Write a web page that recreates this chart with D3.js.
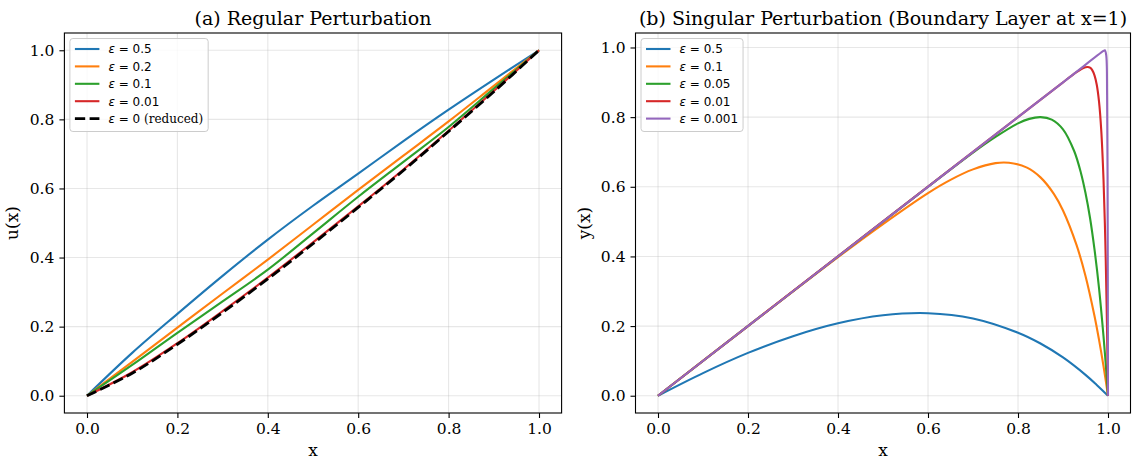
<!DOCTYPE html>
<html>
<head>
<meta charset="utf-8">
<script src="https://cdn.jsdelivr.net/npm/d3@7"></script>
<style>
  body { margin: 0; background: #fff; }
  svg text { font-family: "DejaVu Serif", serif; fill: #000; }
</style>
</head>
<body>
<div id="chart"></div>
<script>
(function () {

  // ---- data ----
  const ticks = [0, 0.2, 0.4, 0.6, 0.8, 1.0]

  // (a) regular perturbation, sampled every 0.1
  const regularX = [0, 0.1, 0.2, 0.3, 0.4, 0.5, 0.6, 0.7, 0.8, 0.9, 1.0]
  const regularEps05 = [0, 0.124, 0.237, 0.347, 0.452, 0.550, 0.643, 0.737, 0.828, 0.915, 1.0]
  const regularEps02 = [0, 0.098, 0.197, 0.296, 0.394, 0.495, 0.596, 0.695, 0.794, 0.897, 1.0]
  const regularEps01 = [0, 0.089, 0.182, 0.273, 0.365, 0.470, 0.576, 0.677, 0.778, 0.889, 1.0]
  const regularEps001 = [0, 0.068, 0.152, 0.245, 0.342, 0.444, 0.548, 0.655, 0.767, 0.882, 1.0]
  const regularReduced = [0, 0.065, 0.149, 0.241, 0.338, 0.440, 0.545, 0.652, 0.765, 0.880, 1.0]
  const regularLabels = ["0.5", "0.2", "0.1", "0.01"]

  // (b) singular perturbation, boundary layer at x=1
  const singEps05X = [0, 0.1, 0.2, 0.3, 0.4, 0.5, 0.6, 0.7, 0.8, 0.85, 0.9, 0.95, 0.975, 1.0]
  const singEps05Y = [0, 0.065, 0.123, 0.171, 0.208, 0.231, 0.237, 0.222, 0.181, 0.150, 0.110, 0.060, 0.031, 0]
  const singEps01X = [0, 0.2, 0.4, 0.5, 0.6, 0.65, 0.7, 0.75, 0.78, 0.82, 0.85, 0.88, 0.9, 0.93, 0.95, 0.97, 0.98, 0.99, 1.0]
  const singEps01Y = [0, 0.2, 0.398, 0.493, 0.582, 0.620, 0.650, 0.668, 0.669, 0.655, 0.627, 0.579, 0.532, 0.433, 0.344, 0.229, 0.161, 0.085, 0]
  const singEps005X = [0, 0.5, 0.6, 0.7, 0.75, 0.8, 0.825, 0.85, 0.875, 0.9, 0.925, 0.94, 0.95, 0.96, 0.97, 0.98, 0.99, 0.995, 1.0]
  const singEps005Y = [0, 0.5, 0.6, 0.698, 0.743, 0.782, 0.795, 0.800, 0.793, 0.765, 0.702, 0.639, 0.582, 0.511, 0.420, 0.310, 0.171, 0.090, 0]
  const singEps001X = [0, 0.9, 0.93, 0.94, 0.95, 0.955, 0.96, 0.965, 0.97, 0.975, 0.98, 0.985, 0.99, 0.993, 0.995, 0.997, 0.999, 1.0]
  const singEps001Y = [0, 0.9, 0.929, 0.9375, 0.943, 0.944, 0.942, 0.935, 0.920, 0.893, 0.845, 0.762, 0.622, 0.496, 0.389, 0.256, 0.094, 0]
  const singEps0001X = [0, 0.9, 0.99, 0.993, 0.996, 0.998, 0.999, 1.0]
  const singEps0001Y = [0, 0.9, 0.99, 0.992, 0.978, 0.863, 0.631, 0]
  const singularLabels = ["0.5", "0.1", "0.05", "0.01", "0.001"]

  const colors = ["#1f77b4", "#ff7f0e", "#2ca02c", "#d62728", "#9467bd"]

  const W = 1137, H = 459

  const svg = d3.select("#chart").append("svg")
      .attr("width", W)
      .attr("height", H)

  // Build one panel
  function panel(opts) {
    const x = d3.scaleLinear().domain([-0.05, 1.05]).range([opts.left, opts.right])
    const y = d3.scaleLinear().domain(opts.yDomain).range([413, 33])
    const g = svg.append("g")

    // grid
    g.selectAll(".gx").data(ticks).join("line")
      .attr("x1", d => x(d)).attr("x2", d => x(d))
      .attr("y1", 33).attr("y2", 413)
      .attr("stroke", "#b0b0b0").attr("stroke-opacity", 0.3).attr("stroke-width", 1.1)
    g.selectAll(".gy").data(ticks).join("line")
      .attr("y1", d => y(d)).attr("y2", d => y(d))
      .attr("x1", opts.left).attr("x2", opts.right)
      .attr("stroke", "#b0b0b0").attr("stroke-opacity", 0.3).attr("stroke-width", 1.1)

    const line = d3.line()
      .x(d => x(d[0]))
      .y(d => y(d[1]))
      .curve(d3.curveCatmullRom.alpha(0.5))

    opts.series.forEach(s => {
      g.append("path")
        .datum(s.xs.map((v, i) => [v, s.ys[i]]))
        .attr("fill", "none")
        .attr("stroke", s.color)
        .attr("stroke-width", s.width || 2.1)
        .attr("stroke-dasharray", s.dash || null)
        .attr("stroke-linejoin", "round")
        .attr("d", line)
    })

    // axes
    const fmt = d3.format(".1f")
    const ax = g.append("g").attr("transform", "translate(0,413)")
      .call(d3.axisBottom(x).tickValues(ticks).tickFormat(fmt).tickSize(5).tickPadding(5))
    const ay = g.append("g").attr("transform", "translate(" + opts.left + ",0)")
      .call(d3.axisLeft(y).tickValues(ticks).tickFormat(fmt).tickSize(5).tickPadding(5))
    ;[ax, ay].forEach(a => {
      a.select(".domain").remove()
      a.selectAll("line").attr("stroke", "#000").attr("stroke-width", 1.1)
      a.selectAll("text").style("font-family", "DejaVu Serif").style("font-size", "15.5px")
    })

    // frame
    g.append("rect")
      .attr("x", opts.left).attr("y", 33)
      .attr("width", opts.right - opts.left).attr("height", 380)
      .attr("fill", "none").attr("stroke", "#000").attr("stroke-width", 1.1)

    // titles and labels
    g.append("text")
      .attr("x", (opts.left + opts.right) / 2).attr("y", 25)
      .attr("text-anchor", "middle").style("font-size", "19px")
      .text(opts.title)
    g.append("text")
      .attr("x", (opts.left + opts.right) / 2).attr("y", 456)
      .attr("text-anchor", "middle").style("font-size", "17px")
      .text("x")
    g.append("text")
      .attr("transform", "translate(" + (opts.left - 46) + ",223) rotate(-90)")
      .attr("text-anchor", "middle").style("font-size", "17px")
      .text(opts.ylabel)

    // legend
    const lg = g.append("g")
    const box = lg.append("rect")
      .attr("x", opts.left + 5.5).attr("y", 38.5)
      .attr("rx", 3)
      .attr("fill", "#fff").attr("fill-opacity", 0.8)
      .attr("stroke", "#cccccc").attr("stroke-width", 1)
    let maxW = 0
    opts.legend.forEach((it, i) => {
      const yy = 49 + i * 17.4
      lg.append("line")
        .attr("x1", opts.left + 10.5).attr("x2", opts.left + 35)
        .attr("y1", yy).attr("y2", yy)
        .attr("stroke", it.color)
        .attr("stroke-width", it.width || 2.1)
        .attr("stroke-dasharray", it.dash || null)
      const t = lg.append("text")
        .attr("x", opts.left + 44).attr("y", yy + 4.3)
        .style("font-size", "12px")
      t.append("tspan").style("font-family", "DejaVu Sans").style("font-style", "italic").text("ε")
      t.append("tspan").style("font-family", "DejaVu Sans").text(" = " + it.value)
      if (it.extra) t.append("tspan").style("font-family", "DejaVu Serif").text(it.extra)
      maxW = Math.max(maxW, t.node().getComputedTextLength())
    })
    box.attr("width", 44 + maxW + 5 - 5.5)
      .attr("height", opts.legend.length * 17.4 + 6)
  }

  panel({
    left: 64.4, right: 561.6,
    yDomain: [-0.05, 1.05],
    title: "(a) Regular Perturbation",
    ylabel: "u(x)",
    series: [
      { xs: regularX, ys: regularEps05, color: colors[0] },
      { xs: regularX, ys: regularEps02, color: colors[1] },
      { xs: regularX, ys: regularEps01, color: colors[2] },
      { xs: regularX, ys: regularEps001, color: colors[3] },
      { xs: regularX, ys: regularReduced, color: "#000", width: 2.8, dash: "10.3,4.4" }
    ],
    legend: regularLabels.map((v, i) => ({ value: v, color: colors[i] }))
      .concat([{ value: "0", extra: " (reduced)", color: "#000", width: 2.8, dash: "10.3,4.4" }])
  })

  panel({
    left: 635.5, right: 1130.5,
    yDomain: [-0.0496, 1.0416],
    title: "(b) Singular Perturbation (Boundary Layer at x=1)",
    ylabel: "y(x)",
    series: [
      { xs: singEps05X, ys: singEps05Y, color: colors[0] },
      { xs: singEps01X, ys: singEps01Y, color: colors[1] },
      { xs: singEps005X, ys: singEps005Y, color: colors[2] },
      { xs: singEps001X, ys: singEps001Y, color: colors[3] },
      { xs: singEps0001X, ys: singEps0001Y, color: colors[4] }
    ],
    legend: singularLabels.map((v, i) => ({ value: v, color: colors[i] }))
  })

})();
</script>
</body>
</html>
